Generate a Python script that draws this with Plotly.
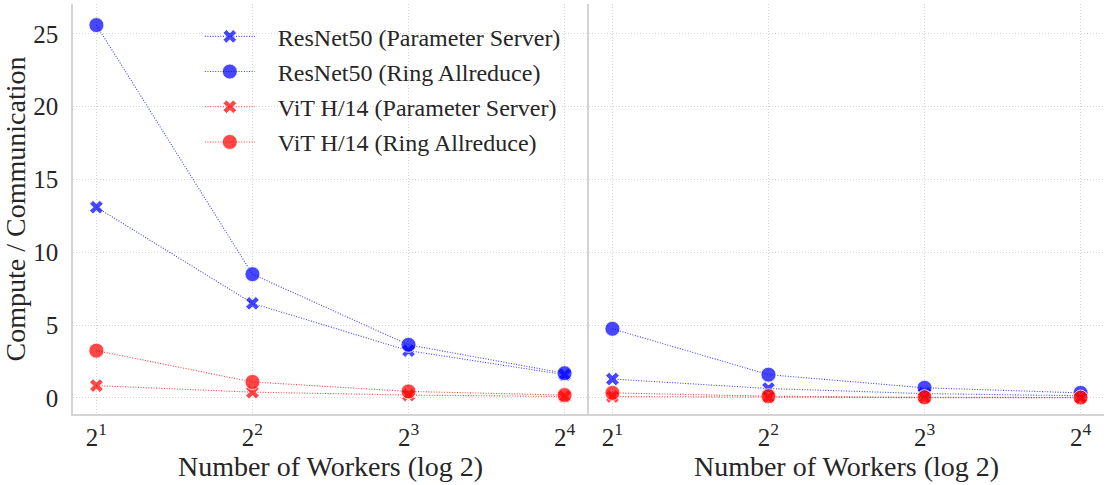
import math
import plotly.graph_objects as go

workers = [2, 4, 8, 16]
tick_labels = ["2<sup>1</sup>", "2<sup>2</sup>", "2<sup>3</sup>", "2<sup>4</sup>"]

# Left panel
left_resnet_ps = [13.1, 6.5, 3.25, 1.6]
left_resnet_ring = [25.6, 8.5, 3.65, 1.7]
left_vit_ps = [0.85, 0.4, 0.2, 0.1]
left_vit_ring = [3.25, 1.1, 0.45, 0.2]

# Right panel
right_resnet_ps = [1.3, 0.65, 0.3, 0.15]
right_resnet_ring = [4.75, 1.6, 0.7, 0.35]
right_vit_ps = [0.1, 0.05, 0.02, 0.01]
right_vit_ring = [0.35, 0.12, 0.05, 0.03]

series_names = [
    "ResNet50 (Parameter Server)",
    "ResNet50 (Ring Allreduce)",
    "ViT H/14 (Parameter Server)",
    "ViT H/14 (Ring Allreduce)",
]

BLUE = "rgba(0,0,255,0.72)"
RED = "rgba(255,0,0,0.72)"
BLUE_LINE = "rgba(0,0,255,0.75)"
RED_LINE = "rgba(255,0,0,0.75)"
FONT = "Liberation Serif"
PAD = "\u00a0\u00a0\u00a0"

styles = [
    (BLUE, BLUE_LINE, "x", 12),
    (BLUE, BLUE_LINE, "circle", 15),
    (RED, RED_LINE, "x", 12),
    (RED, RED_LINE, "circle", 15),
]

fig = go.Figure()

panels = [
    ("x", "y", [left_resnet_ps, left_resnet_ring, left_vit_ps, left_vit_ring], True),
    ("x2", "y2", [right_resnet_ps, right_resnet_ring, right_vit_ps, right_vit_ring], False),
]

for xa, ya, data, show in panels:
    for name, vals, (mc, lc, sym, sz) in zip(series_names, data, styles):
        fig.add_trace(go.Scatter(
            x=workers, y=vals, name=PAD + name, xaxis=xa, yaxis=ya,
            mode="lines+markers", showlegend=show, legendgroup=name,
            line=dict(color=lc, width=1.1, dash="1px,1.6px"),
            marker=dict(symbol=sym, size=sz, color=mc,
                        line=dict(color="rgba(255,255,255,0.8)", width=1)),
        ))

xrange_log = [0.85 * math.log10(2), 4.15 * math.log10(2)]
yrange = [-1.1, 27.05]
GRID = "#d6d6d6"
SPINE = "#d4d4d4"

axis_common = dict(
    type="log", range=xrange_log, tickvals=workers, ticktext=tick_labels,
    showgrid=True, gridcolor=GRID, griddash="1px,2px", gridwidth=1,
    showline=True, linecolor=SPINE, linewidth=1.5,
    ticks="", zeroline=False, automargin=False,
    tickfont=dict(family=FONT, size=25, color="#262626"),
    title=dict(text="Number of Workers (log 2)", font=dict(family=FONT, size=28, color="#262626"), standoff=4),
)

fig.update_layout(
    width=1105, height=485,
    paper_bgcolor="white", plot_bgcolor="white",
    margin=dict(l=73, r=1, t=4, b=71),
    font=dict(family=FONT, color="#262626"),
    xaxis=dict(domain=[0, 0.4995], anchor="y", **axis_common),
    xaxis2=dict(domain=[0.5005, 1], anchor="y2", **axis_common),
    yaxis=dict(
        range=yrange, tickvals=[0, 5, 10, 15, 20, 25], anchor="x",
        showgrid=True, gridcolor=GRID, griddash="1px,2px", gridwidth=1,
        showline=True, linecolor=SPINE, linewidth=1.5, ticks="", zeroline=False,
        automargin=False,
        tickfont=dict(family=FONT, size=25, color="#262626"), ticklabelstandoff=8,
        title=dict(text="Compute / Communication", font=dict(family=FONT, size=28, color="#262626"), standoff=0),
    ),
    yaxis2=dict(
        range=yrange, matches="y", anchor="x2", showticklabels=False,
        tickvals=[0, 5, 10, 15, 20, 25], automargin=False,
        showgrid=True, gridcolor=GRID, griddash="1px,2px", gridwidth=1,
        showline=True, linecolor=SPINE, linewidth=1.5, ticks="", zeroline=False,
    ),
    legend=dict(
        x=0.123, y=0.975, xanchor="left", yanchor="top",
        bgcolor="rgba(255,255,255,0)", borderwidth=0,
        font=dict(family=FONT, size=24, color="#262626"),
        tracegroupgap=1, itemwidth=50,
    ),
)

fig.write_html(
    "out.html",
    config={"displayModeBar": False},
    post_script="document.body.style.margin='0';document.body.style.overflow='hidden';",
)
